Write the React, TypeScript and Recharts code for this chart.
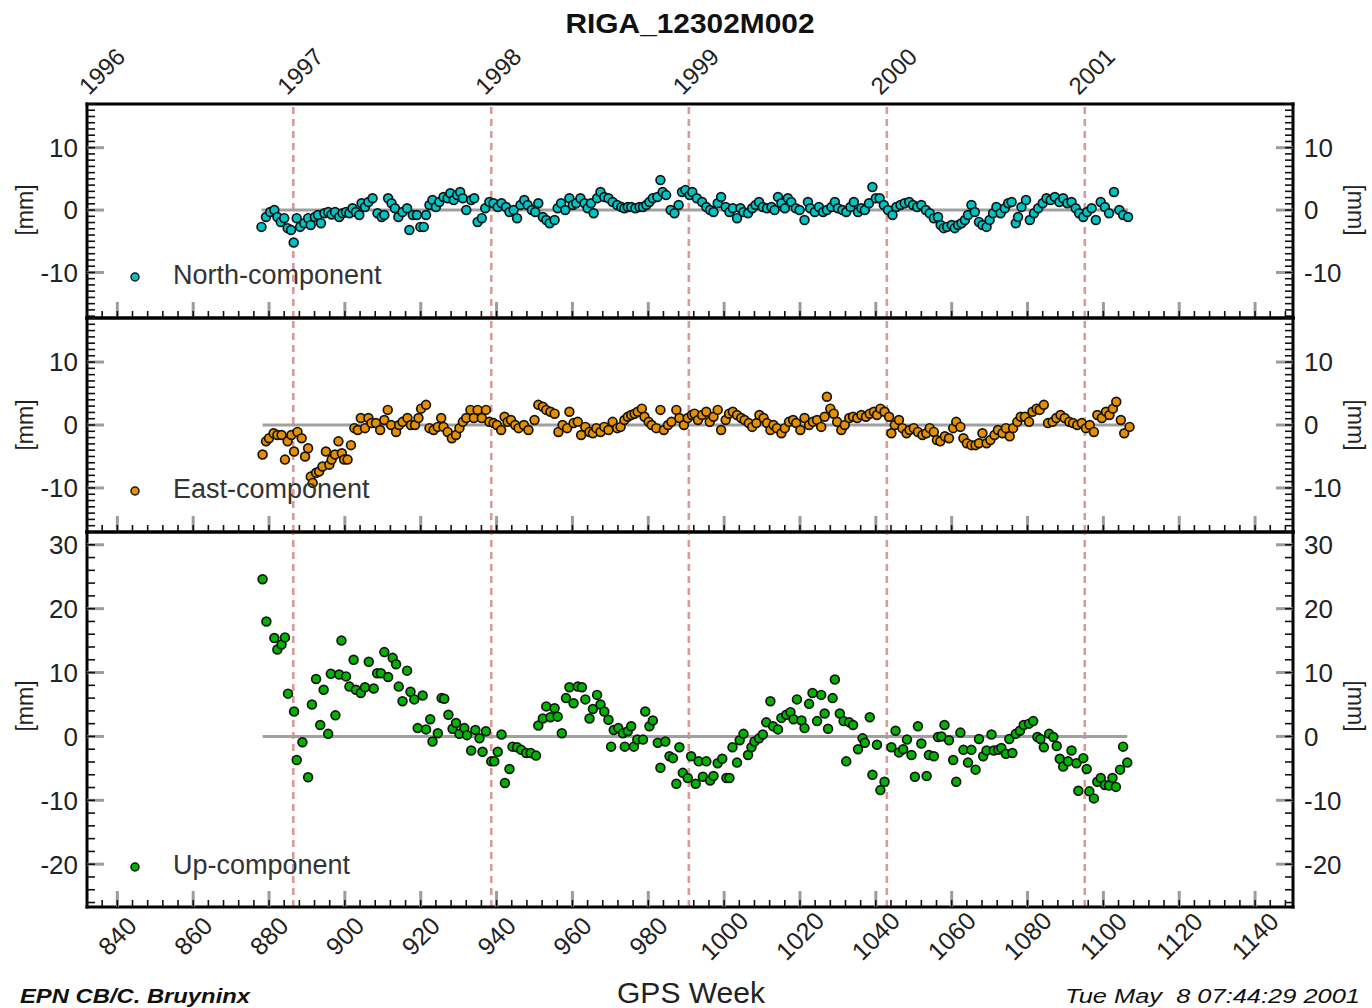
import React from "react";
import { ScatterChart, Scatter, XAxis, YAxis, ReferenceLine } from "recharts";

const FONT = "'Liberation Sans', Arial, Helvetica, sans-serif";
const W = 1372;
const H = 1008;
const PLOT_L = 87;
const PLOT_R = 1293;
const X_DOMAIN: [number, number] = [832, 1150];

const WEEK_LABELS = [840, 860, 880, 900, 920, 940, 960, 980, 1000, 1020, 1040, 1060, 1080, 1100, 1120, 1140];
const YEAR_LABELS = ["1996", "1997", "1998", "1999", "2000", "2001"];
const YEAR_WEEKS = [834.1, 886.4, 938.6, 990.7, 1042.9, 1095.1];
const YEAR_DASHED = [false, true, true, true, true, true];

const NORTH: [number, number][] = [
  [878.0,-2.7],[879.2,-1.1],[880.3,-0.3],[881.4,0],[882.2,-1.1],[883.1,-1.9],[884.0,-1.3],[884.9,-2.9],[885.8,-3.2],[886.5,-5.2],
  [887.3,-1.3],[888.2,-2.7],[889.3,-2.1],[890.3,-1.3],[891.0,-2.4],[892.1,-1.1],[892.9,-0.8],[893.7,-2.1],[894.6,-0.5],[895.6,-0.3],
  [896.5,-0.7],[897.4,-0.3],[898.5,-1.1],[899.4,-0.5],[900.3,-0.3],[901.2,-0.5],[902.0,0.3],[902.9,-0.3],[903.8,-0.8],[904.4,1.1],
  [905.3,0.5],[906.2,1.3],[907.3,1.9],[908.6,-0.5],[909.7,-1.1],[910.4,-0.8],[911.4,1.9],[912.3,1.1],[913.2,0.3],[914.1,-1.1],
  [915.2,-0.3],[916.4,0.3],[917.0,-3.2],[917.9,-0.8],[919.0,-0.8],[919.9,-2.7],[920.8,-2.7],[921.4,-0.8],[922.3,0.8],[923.1,1.6],
  [924.0,0.5],[924.9,1.3],[926.0,2.1],[927.1,1.9],[927.8,2.7],[928.7,1.6],[929.6,2.4],[930.4,2.9],[931.1,1.9],[932.0,0],
  [933.3,1.6],[934.1,1.9],[935.0,-1.9],[936.1,-1.3],[937.0,0.3],[938.1,1.3],[939.2,1.1],[940.3,0.5],[941.3,1.1],[942.5,0.5],
  [943.4,-0.3],[944.5,0],[945.4,-1.3],[946.3,0.8],[947.3,1.6],[948.2,0.8],[949.3,0],[950.2,-0.3],[951.0,1.1],[952.2,-1.1],
  [953.1,-1.6],[954.0,-2.1],[955.3,-1.6],[956.1,0.3],[957.0,1.1],[958.1,0],[959.2,1.9],[960.1,0.8],[961.0,1.1],[962.1,1.9],
  [963.2,1.1],[964.0,0.3],[964.9,1.1],[965.6,-0.5],[966.5,1.9],[967.4,2.9],[968.4,2.1],[969.5,1.9],[970.6,1.3],[971.8,0.8],
  [972.9,0.5],[973.7,0.3],[974.6,0.5],[975.5,0.5],[976.6,0.3],[977.7,0.5],[978.6,0.5],[979.5,0.8],[980.3,1.3],[981.2,1.9],
  [982.4,2.1],[983.2,4.8],[983.8,2.9],[984.7,2.4],[985.9,0],[986.9,-0.5],[988.0,0.8],[988.9,2.9],[989.8,3.2],[990.9,2.4],
  [991.6,2.9],[992.8,1.9],[994.2,1.3],[995.3,0.5],[996.3,0],[997.2,-0.3],[998.3,1.1],[999.2,2.1],[1000.4,0.5],[1001.4,-0.3],
  [1002.3,0.3],[1003.4,-1.3],[1004.3,0.3],[1005.1,-0.3],[1006.3,-0.5],[1007.4,0.3],[1008.3,0.8],[1009.2,1.3],[1010.2,0.5],[1011.3,0.3],
  [1012.5,0.5],[1013.3,0],[1014.2,2.1],[1015.1,1.1],[1016.0,0.3],[1016.8,1.9],[1017.7,1.3],[1018.9,0.3],[1019.9,0],[1021.2,-1.6],
  [1022.1,1.3],[1022.7,0.3],[1023.9,-0.3],[1025.0,0.5],[1026.1,-0.3],[1027.1,0],[1028.3,0.5],[1029.2,1.3],[1030.0,0.3],[1031.2,0],
  [1032.2,-0.3],[1033.3,0.5],[1034.2,1.3],[1035.3,-0.3],[1036.2,0.3],[1037.1,0],[1038.2,1.1],[1039.1,3.7],[1040.0,1.9],[1041.0,1.9],
  [1042.1,0.8],[1043.2,0],[1044.4,-0.8],[1045.4,0.5],[1046.5,0.8],[1047.6,1.1],[1048.8,1.3],[1049.8,0.8],[1050.9,0.5],[1052.0,0.8],
  [1053.2,0],[1054.2,-0.5],[1055.3,-1.3],[1056.4,-1.1],[1057.1,-2.4],[1057.9,-2.9],[1058.8,-2.7],[1060.0,-2.4],[1060.8,-2.9],[1061.7,-2.4],
  [1062.6,-2.1],[1063.5,-1.6],[1064.3,-0.8],[1065.2,0.8],[1066.1,-0.3],[1067.2,-1.9],[1068.1,-2.4],[1069.2,-2.7],[1070.0,-1.6],[1070.9,-0.5],
  [1071.8,0.5],[1072.9,-0.5],[1074.0,0.3],[1074.9,1.1],[1075.8,1.3],[1076.9,-2.1],[1077.5,-1.1],[1078.4,0.5],[1079.6,1.6],[1080.6,-1.6],
  [1081.7,-0.5],[1082.8,0.3],[1084.0,1.1],[1085.0,1.9],[1086.1,1.6],[1087.2,2.1],[1088.4,1.3],[1089.4,1.9],[1090.5,1.1],[1091.6,1.3],
  [1092.7,0.3],[1093.6,-0.5],[1094.7,-1.1],[1095.7,-0.3],[1096.9,0.3],[1098.0,-1.6],[1099.3,1.3],[1100.4,0.5],[1101.5,-0.5],[1102.8,2.9],
  [1104.2,0],[1105.2,-0.8],[1106.5,-1.1],
];

const EAST: [number, number][] = [
  [878.3,-4.7],[879.2,-2.6],[880.0,-2.1],[881.2,-1.3],[882.2,-1.6],[883.3,-1.6],[884.2,-5.5],[884.9,-2.6],[885.9,-1.6],[886.6,-4.2],
  [887.5,-1.1],[888.6,-2.1],[889.5,-5.0],[890.3,-3.7],[891.0,-8.2],[891.5,-9.2],[892.4,-7.6],[893.2,-7.4],[894.1,-6.6],[895.0,-4.2],
  [895.9,-6.3],[896.5,-5.5],[897.4,-4.7],[898.3,-2.6],[899.2,-4.5],[899.8,-5.5],[900.7,-5.5],[901.6,-3.2],[902.5,-0.5],[903.4,-0.8],
  [904.2,1.1],[905.3,-0.5],[906.2,1.1],[907.0,0.3],[908.2,0.3],[909.3,-0.8],[910.4,0.8],[911.3,2.4],[912.2,0],[913.5,-1.1],
  [914.3,0],[915.2,0.5],[916.5,1.1],[917.4,0],[918.5,0],[919.4,1.1],[920.1,2.6],[921.4,3.2],[922.3,-0.5],[923.4,-0.8],
  [924.5,-0.3],[925.4,1.1],[926.0,-0.3],[927.1,-1.1],[928.2,-2.1],[929.3,-1.6],[930.2,-0.5],[931.1,0.5],[932.0,1.1],[933.1,2.4],
  [934.0,1.1],[935.0,2.4],[936.1,1.1],[937.2,2.4],[938.1,0.5],[939.2,0.3],[940.1,0],[941.2,-0.8],[942.1,1.3],[942.9,0.5],
  [943.8,0.8],[944.9,0],[945.8,-0.5],[947.2,0],[948.4,-0.8],[950.0,0.8],[951.0,3.2],[952.2,2.9],[953.1,2.4],[954.2,2.1],
  [955.3,1.8],[956.3,-1.1],[957.4,0],[958.6,-0.5],[959.2,2.1],[960.3,0.3],[961.4,0.5],[962.3,-1.6],[963.4,-0.3],[964.5,-1.1],
  [965.4,-1.3],[966.3,-0.5],[967.4,-1.1],[968.4,-0.3],[969.5,-0.8],[970.6,0.5],[971.8,-0.5],[972.7,-0.3],[973.7,0.8],[974.6,1.3],
  [975.5,1.6],[976.4,1.8],[977.2,2.1],[978.3,2.6],[979.0,1.3],[980.1,0.5],[980.9,0],[982.1,-0.5],[983.2,2.4],[984.1,-0.8],
  [985.2,0],[986.1,0.5],[987.4,2.4],[988.2,1.1],[989.4,0],[990.4,1.1],[991.5,1.6],[992.2,1.8],[993.1,0.8],[994.2,1.6],
  [995.3,2.1],[996.2,0.5],[997.2,1.3],[998.3,2.4],[999.2,-0.8],[1000.4,0.8],[1001.3,1.8],[1002.3,2.1],[1003.4,1.6],[1004.5,1.1],
  [1005.4,0.8],[1006.5,0.3],[1007.4,-0.3],[1008.5,0.3],[1009.3,1.6],[1010.4,1.1],[1011.3,0.3],[1012.2,-0.8],[1013.0,0],[1013.9,-0.5],
  [1015.1,-1.3],[1016.0,-0.5],[1017.1,0.5],[1018.2,0.8],[1019.0,0.3],[1020.1,-0.8],[1021.2,1.1],[1022.4,0],[1023.4,0.5],[1024.5,0.8],
  [1025.6,-0.3],[1026.5,1.3],[1027.1,4.5],[1028.0,2.6],[1028.9,1.8],[1029.8,0.5],[1030.9,-0.8],[1031.8,0],[1033.0,1.1],[1034.0,1.3],
  [1035.1,1.1],[1036.2,1.6],[1037.4,1.3],[1038.4,1.8],[1039.5,2.1],[1040.3,1.6],[1041.2,2.6],[1042.3,2.1],[1043.5,1.3],[1044.1,-1.3],
  [1045.0,0],[1046.1,0.8],[1047.0,-0.5],[1048.1,-1.3],[1048.9,-0.8],[1050.0,-0.5],[1051.1,-1.1],[1052.3,-1.6],[1053.3,-1.3],[1054.2,-0.5],
  [1055.3,-1.1],[1056.1,-2.4],[1057.0,-2.6],[1058.2,-1.8],[1059.3,-2.1],[1060.4,-0.5],[1061.2,0.5],[1062.3,-0.3],[1063.1,-2.1],[1064.0,-2.9],
  [1065.2,-3.2],[1066.3,-3.2],[1067.2,-2.9],[1068.1,-1.3],[1069.2,-2.9],[1070.2,-2.4],[1071.3,-1.6],[1072.2,-0.8],[1073.4,-1.3],[1074.3,-0.5],
  [1075.3,-1.8],[1076.2,-0.5],[1077.3,0.5],[1078.2,1.3],[1079.3,1.3],[1080.4,0.5],[1081.3,2.1],[1082.4,2.6],[1083.2,2.4],[1084.3,3.2],
  [1085.4,0.3],[1086.6,0.5],[1087.6,1.1],[1088.7,1.6],[1089.8,1.1],[1091.0,0.5],[1092.0,0.3],[1093.1,0],[1094.3,0.3],[1095.4,-0.5],
  [1096.4,0],[1097.5,-1.1],[1098.4,1.6],[1099.6,1.1],[1100.7,2.1],[1101.6,1.6],[1102.5,2.6],[1103.4,3.7],[1104.6,0.8],[1105.5,-1.3],
  [1106.9,-0.3],
];

const UP: [number, number][] = [
  [878.3,24.6],[879.3,18.0],[881.4,15.4],[882.2,13.6],[883.3,14.4],[884.2,15.5],[885.0,6.7],[886.6,3.9],[887.3,-3.7],[888.8,-0.9],
  [890.3,-6.4],[891.3,5.0],[892.4,9.0],[893.5,1.8],[894.4,7.3],[895.6,0.4],[896.3,9.8],[897.5,3.3],[898.5,9.7],[899.1,15.0],
  [900.3,9.4],[901.2,7.8],[902.3,12.0],[902.9,7.3],[904.2,6.8],[905.3,7.7],[906.3,11.7],[907.6,7.5],[908.5,9.9],[909.5,9.9],
  [910.4,13.2],[911.4,9.3],[912.6,12.3],[913.5,11.3],[914.2,7.8],[915.2,5.5],[916.4,10.3],[917.3,7.0],[918.3,5.8],[919.2,1.3],
  [920.5,6.4],[921.4,1.1],[922.5,2.7],[923.1,-0.8],[924.5,0.5],[925.5,6.0],[926.2,5.9],[927.3,3.4],[928.4,1.2],[929.3,2.1],
  [930.2,0.4],[931.5,1.3],[932.2,0.2],[933.3,-2.2],[934.4,1.0],[935.5,-0.3],[936.3,-2.4],[937.2,0.8],[938.6,-3.9],[939.4,-3.9],
  [940.3,-2.4],[941.3,0.3],[942.2,-7.3],[943.4,-5.1],[944.2,-1.6],[945.4,-1.7],[946.5,-2.1],[947.8,-2.6],[949.0,-2.6],[950.4,-3.0],
  [951.0,1.7],[952.2,2.8],[953.1,4.7],[954.2,3.0],[955.3,4.4],[956.1,3.1],[957.2,0.5],[958.3,6.0],[959.2,7.7],[960.3,5.2],
  [961.4,7.8],[962.5,7.7],[963.4,5.8],[964.5,2.8],[965.4,4.3],[966.5,6.5],[967.4,5.0],[968.4,3.9],[969.5,2.6],[970.2,-1.6],
  [970.9,1.0],[972.1,1.3],[973.3,0.5],[973.8,-1.6],[974.6,0.8],[975.5,1.6],[976.2,-1.6],[977.1,-0.5],[978.6,-0.5],[979.2,3.9],
  [980.3,1.6],[981.2,2.5],[982.5,-1.0],[983.2,-4.9],[984.5,-0.8],[985.6,-3.1],[986.5,-3.4],[987.4,-7.4],[988.2,-1.7],[989.1,-5.7],
  [990.4,-6.5],[991.3,-3.1],[992.5,-7.4],[993.3,-3.9],[994.4,-6.3],[995.3,-3.9],[996.3,-6.9],[997.2,-6.2],[998.3,-4.2],[999.5,-3.5],
  [1000.6,-6.5],[1001.4,-6.5],[1002.2,-1.7],[1003.4,-4.1],[1004.1,-0.6],[1005.1,0.4],[1006.3,-2.9],[1007.2,-1.7],[1008.0,-0.8],[1009.2,-0.3],
  [1010.2,0.3],[1011.1,2.2],[1012.2,5.5],[1012.9,1.6],[1014.2,1.1],[1015.1,2.9],[1016.4,3.4],[1017.5,3.8],[1018.3,2.7],[1019.2,5.8],
  [1020.4,2.5],[1021.2,1.3],[1022.4,5.1],[1023.3,6.8],[1024.5,2.4],[1025.6,6.5],[1026.5,3.6],[1027.4,1.2],[1028.6,6.0],[1029.2,8.9],
  [1030.5,3.6],[1031.5,2.4],[1032.2,-3.9],[1033.0,2.2],[1034.0,1.8],[1035.3,-2.0],[1036.5,-0.3],[1037.1,-1.0],[1038.4,3.0],[1039.1,-6.0],
  [1040.3,-1.3],[1041.2,-8.4],[1042.3,-7.1],[1044.1,-1.7],[1045.2,0.9],[1046.1,-2.5],[1047.2,-2.0],[1048.2,-0.5],[1049.4,-2.9],[1050.3,-6.3],
  [1051.1,1.6],[1052.0,-1.1],[1053.4,-6.2],[1054.0,-2.9],[1055.3,-3.1],[1056.4,-0.1],[1057.3,0],[1058.1,1.8],[1059.3,-0.6],[1060.4,-3.7],
  [1061.2,-7.1],[1062.3,0.6],[1063.1,-2.1],[1064.3,-4.1],[1065.2,-2.1],[1066.3,-5.2],[1067.2,-0.4],[1068.3,-3.1],[1069.2,-2.2],[1070.5,0.3],
  [1071.1,-2.2],[1072.3,-2.1],[1073.1,-1.8],[1074.3,-2.7],[1075.2,-0.4],[1076.0,-2.6],[1076.9,0.4],[1078.0,0.9],[1079.0,1.8],[1080.4,2.0],
  [1081.5,2.4],[1082.6,-0.1],[1083.4,-0.4],[1084.3,-1.7],[1085.7,0.4],[1086.8,-0.1],[1087.7,-1.5],[1088.5,-3.5],[1089.4,-4.7],[1090.7,-3.9],
  [1091.6,-2.2],[1092.9,-4.2],[1093.4,-8.5],[1094.7,-3.4],[1095.6,-5.1],[1096.3,-8.6],[1097.5,-9.7],[1098.4,-7.1],[1099.3,-6.5],[1100.4,-7.6],
  [1101.5,-7.7],[1102.4,-6.5],[1103.3,-7.9],[1104.4,-5.2],[1105.2,-1.6],[1106.3,-4.1],
];

const range = (a: number, b: number, s: number) => {
  const out: number[] = [];
  for (let v = a; v <= b + 1e-9; v += s) out.push(Math.round(v * 10) / 10);
  return out;
};
const X_TICKS = range(832, 1148, 4);

type PanelCfg = {
  key: string;
  label: string;
  points: [number, number][];
  fill: string;
  top: number;
  bottom: number;
  domain: [number, number];
  yTicks: number[];
  legendY: number;
  mmY: number;
  years: boolean;
  weekLabels: boolean;
};

const PANELS: PanelCfg[] = [
  { key: "n", label: "North-component", points: NORTH, fill: "#00c4c4", top: 104, bottom: 318, domain: [-17.3, 17.0], yTicks: range(-17, 17, 1), legendY: 277, mmY: 210, years: true, weekLabels: false },
  { key: "e", label: "East-component", points: EAST, fill: "#e68f00", top: 318, bottom: 532, domain: [-17, 17], yTicks: range(-17, 17, 1), legendY: 491, mmY: 425, years: false, weekLabels: false },
  { key: "u", label: "Up-component", points: UP, fill: "#00b400", top: 532, bottom: 907, domain: [-26.7, 32], yTicks: range(-26, 32, 2), legendY: 867, mmY: 706, years: false, weekLabels: true },
];

const FRAME = { stroke: "#000", strokeWidth: 3, strokeLinecap: "square" as const };

const makeXTick = (side: "top" | "bottom", labels: boolean) => (p: any) => {
  const v = Number(p.payload.value);
  const major = WEEK_LABELS.includes(v);
  const dir = side === "top" ? 1 : -1;
  return (
    <g>
      {major && <line x1={p.x} x2={p.x} y1={p.y} y2={p.y + dir * 16} stroke="#9c9c9c" strokeWidth={3} />}
      <line x1={p.x} x2={p.x} y1={p.y} y2={p.y + dir * 7} stroke="#111" strokeWidth={1.6} />
      {labels && major && (
        <text transform={`translate(${p.x},${p.y + 29}) rotate(-45)`} textAnchor="middle" dy="0.35em" fontSize={25} fontFamily={FONT} fill="#222">
          {v}
        </text>
      )}
    </g>
  );
};

const makeYTick = (side: "left" | "right") => (p: any) => {
  const v = Number(p.payload.value);
  const major = Math.abs(v % 10) < 1e-6;
  const dir = side === "left" ? 1 : -1;
  return (
    <g>
      {major && <line x1={p.x} x2={p.x + dir * 17} y1={p.y} y2={p.y} stroke="#9c9c9c" strokeWidth={3} />}
      <line x1={p.x} x2={p.x + dir * 8} y1={p.y} y2={p.y} stroke="#111" strokeWidth={1.6} />
      {major && (
        <text x={side === "left" ? p.x - 9 : p.x + 11} y={p.y} dy="0.36em" textAnchor={side === "left" ? "end" : "start"} fontSize={26} fontFamily={FONT} fill="#222">
          {v}
        </text>
      )}
    </g>
  );
};

const yearLabel = (text: string) => (props: any) => {
  const vb = props.viewBox || {};
  const x = Number(vb.x);
  const y = Number(vb.y);
  return (
    <text transform={`translate(${x - 6},${y - 8}) rotate(-45)`} textAnchor="start" fontSize={24} fontFamily={FONT} fill="#222">
      {text}
    </text>
  );
};

function Panel({ cfg }: { cfg: PanelCfg }) {
  const data = cfg.points.map(([w, v]) => ({ w, v }));
  const weeks = cfg.points.map((p) => p[0]);
  const first = Math.min(...weeks);
  const last = Math.max(...weeks);
  const margin = { top: cfg.top - 1, bottom: H - cfg.bottom - 1, left: PLOT_L - 1, right: W - PLOT_R - 1 };
  const dot = (s: any) => (
    <circle cx={s.cx} cy={s.cy} r={4.4} fill={cfg.fill} stroke="#141414" strokeWidth={1.7} />
  );
  return (
    <div style={{ position: "absolute", left: 0, top: 0, width: W, height: H }}>
      <ScatterChart width={W} height={H} margin={margin}>
        {YEAR_WEEKS.map((w, i) =>
          YEAR_DASHED[i] || cfg.years ? (
            <ReferenceLine
              key={w}
              xAxisId="b"
              yAxisId="l"
              x={w}
              stroke={YEAR_DASHED[i] ? "#d99a9a" : "none"}
              strokeWidth={2.6}
              strokeDasharray="7 5"
              label={cfg.years ? { content: yearLabel(YEAR_LABELS[i]) } : undefined}
            />
          ) : null
        )}
        <ReferenceLine xAxisId="b" yAxisId="l" segment={[{ x: first, y: 0 }, { x: last, y: 0 }]} stroke="#a0a0a0" strokeWidth={3} />
        <XAxis
          xAxisId="b" type="number" dataKey="w" domain={X_DOMAIN} allowDataOverflow orientation="bottom" height={1}
          ticks={X_TICKS} interval={0} tickLine={false} tickSize={0} tickMargin={0} axisLine={FRAME}
          tick={makeXTick("bottom", cfg.weekLabels)}
        />
        <XAxis
          xAxisId="t" type="number" domain={X_DOMAIN} allowDataOverflow orientation="top" height={1}
          ticks={X_TICKS} interval={0} tickLine={false} tickSize={0} tickMargin={0} axisLine={FRAME}
          tick={makeXTick("top", false)}
        />
        <YAxis
          yAxisId="l" type="number" dataKey="v" domain={cfg.domain} allowDataOverflow orientation="left" width={1}
          ticks={cfg.yTicks} interval={0} tickLine={false} tickSize={0} tickMargin={0} axisLine={FRAME}
          tick={makeYTick("left")}
        />
        <YAxis
          yAxisId="r" type="number" domain={cfg.domain} allowDataOverflow orientation="right" width={1}
          ticks={cfg.yTicks} interval={0} tickLine={false} tickSize={0} tickMargin={0} axisLine={FRAME}
          tick={makeYTick("right")}
        />
        <Scatter xAxisId="b" yAxisId="l" data={data} dataKey="v" isAnimationActive={false} shape={dot} />
      </ScatterChart>
    </div>
  );
}

export default function App() {
  return (
    <div style={{ position: "absolute", left: 0, top: 0, width: W, height: H, background: "#fff", overflow: "hidden" }}>
      {PANELS.map((cfg) => (
        <Panel key={cfg.key} cfg={cfg} />
      ))}
      <svg width={W} height={H} style={{ position: "absolute", left: 0, top: 0, pointerEvents: "none" }}>
        <text x={690} y={33} textAnchor="middle" fontSize={28} fontWeight="bold" fontFamily={FONT} fill="#111" textLength={249} lengthAdjust="spacingAndGlyphs">
          RIGA_12302M002
        </text>
        {PANELS.map((cfg) => (
          <g key={cfg.key}>
            <circle cx={135} cy={cfg.legendY} r={4} fill={cfg.fill} stroke="#141414" strokeWidth={1.5} />
            <text x={173} y={cfg.legendY + 7} fontSize={27} fontFamily={FONT} fill="#333">
              {cfg.label}
            </text>
            <text transform={`translate(25,${cfg.mmY}) rotate(-90)`} textAnchor="middle" dy="0.35em" fontSize={23} fontFamily={FONT} fill="#222">
              [mm]
            </text>
            <text transform={`translate(1356,${cfg.mmY}) rotate(90)`} textAnchor="middle" dy="0.35em" fontSize={23} fontFamily={FONT} fill="#222">
              [mm]
            </text>
          </g>
        ))}
        <text x={691} y={1003} textAnchor="middle" fontSize={29} fontFamily={FONT} fill="#222" textLength={148} lengthAdjust="spacingAndGlyphs">
          GPS Week
        </text>
        <text x={20} y={1003} fontSize={20} fontStyle="italic" fontWeight="bold" fontFamily={FONT} fill="#111" textLength={230} lengthAdjust="spacingAndGlyphs">
          EPN CB/C. Bruyninx
        </text>
        <text x={1360} y={1003} textAnchor="end" fontSize={20} fontStyle="italic" fontFamily={FONT} fill="#111" style={{ whiteSpace: "pre" }} textLength={295} lengthAdjust="spacingAndGlyphs">
          {"Tue May  8 07:44:29 2001"}
        </text>
      </svg>
    </div>
  );
}
